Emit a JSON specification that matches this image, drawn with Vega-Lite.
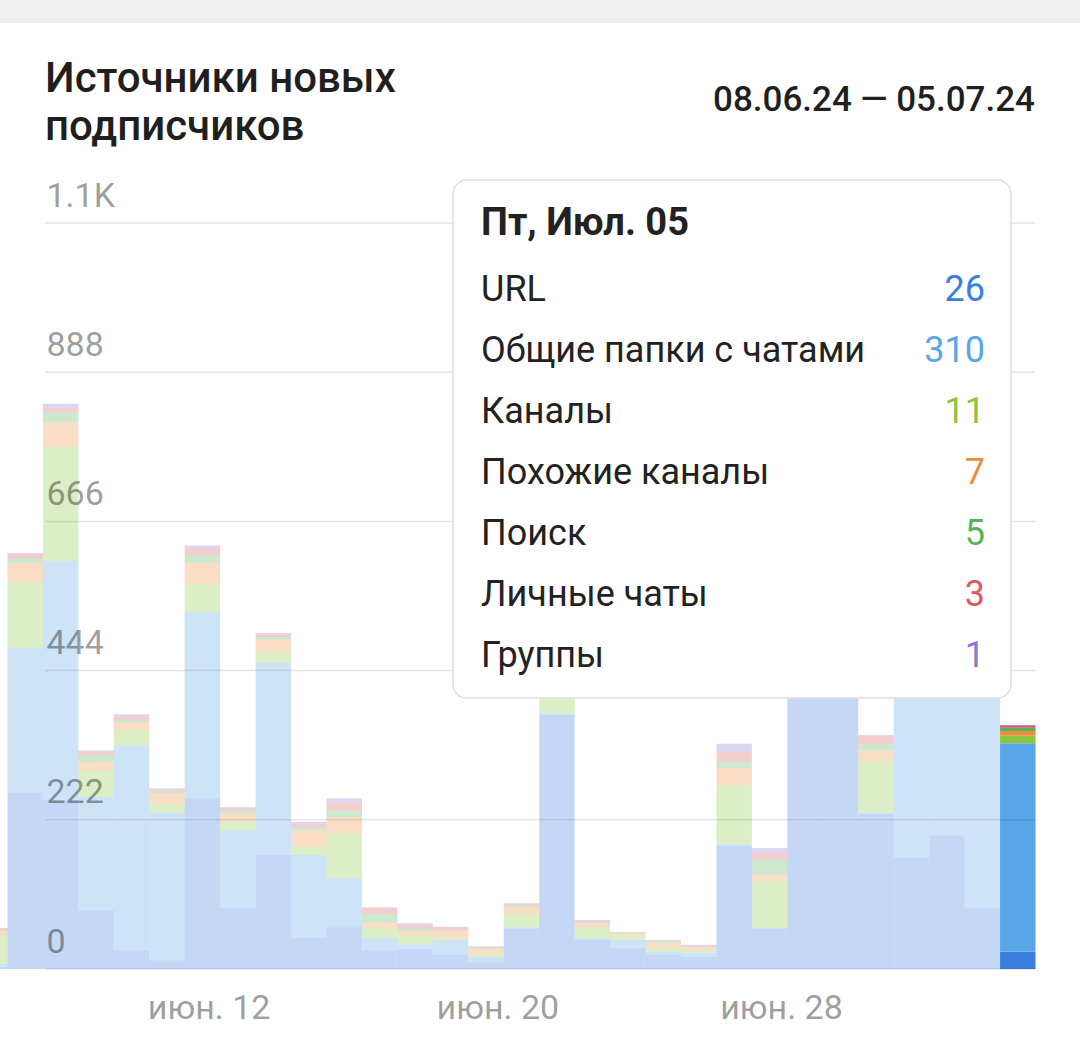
{
  "$schema": "https://vega.github.io/schema/vega-lite/v6.json",
  "width": 990,
  "height": 746,
  "autosize": {"type": "none"},
  "padding": {"left": 45, "right": 45, "top": 223, "bottom": 78},
  "background": "white",
  "config": {"view": {"stroke": null}, "font": "Roboto"},
  "datasets": {
    "days": [
      {"date": "2024-06-06", "URL": 3, "Общие папки с чатами": 5, "Каналы": 40, "Похожие каналы": 8, "Поиск": 2, "Личные чаты": 3, "Группы": 0},
      {"date": "2024-06-07", "URL": 262, "Общие папки с чатами": 216, "Каналы": 98, "Похожие каналы": 28, "Поиск": 7, "Личные чаты": 7, "Группы": 1},
      {"date": "2024-06-08", "URL": 251, "Общие папки с чатами": 356, "Каналы": 170, "Похожие каналы": 36, "Поиск": 15, "Личные чаты": 7, "Группы": 6},
      {"date": "2024-06-09", "URL": 88, "Общие папки с чатами": 168, "Каналы": 40, "Похожие каналы": 12, "Поиск": 10, "Личные чаты": 6, "Группы": 1},
      {"date": "2024-06-10", "URL": 28, "Общие папки с чатами": 305, "Каналы": 22, "Похожие каналы": 12, "Поиск": 3, "Личные чаты": 5, "Группы": 4},
      {"date": "2024-06-11", "URL": 13, "Общие папки с чатами": 220, "Каналы": 13, "Похожие каналы": 15, "Поиск": 3, "Личные чаты": 3, "Группы": 2},
      {"date": "2024-06-12", "URL": 254, "Общие папки с чатами": 277, "Каналы": 43, "Похожие каналы": 30, "Поиск": 12, "Личные чаты": 10, "Группы": 4},
      {"date": "2024-06-13", "URL": 91, "Общие папки с чатами": 116, "Каналы": 12, "Похожие каналы": 13, "Поиск": 4, "Личные чаты": 4, "Группы": 1},
      {"date": "2024-06-14", "URL": 170, "Общие папки с чатами": 286, "Каналы": 15, "Похожие каналы": 19, "Поиск": 4, "Личные чаты": 4, "Группы": 2},
      {"date": "2024-06-15", "URL": 46, "Общие папки с чатами": 124, "Каналы": 12, "Похожие каналы": 24, "Поиск": 4, "Личные чаты": 6, "Группы": 3},
      {"date": "2024-06-16", "URL": 62, "Общие папки с чатами": 73, "Каналы": 67, "Похожие каналы": 24, "Поиск": 10, "Личные чаты": 12, "Группы": 6},
      {"date": "2024-06-17", "URL": 28, "Общие папки с чатами": 18, "Каналы": 16, "Похожие каналы": 7, "Поиск": 13, "Личные чаты": 9, "Группы": 1},
      {"date": "2024-06-18", "URL": 30, "Общие папки с чатами": 7, "Каналы": 13, "Похожие каналы": 6, "Поиск": 3, "Личные чаты": 6, "Группы": 3},
      {"date": "2024-06-19", "URL": 21, "Общие папки с чатами": 22, "Каналы": 3, "Похожие каналы": 10, "Поиск": 1, "Личные чаты": 5, "Группы": 1},
      {"date": "2024-06-20", "URL": 10, "Общие папки с чатами": 8, "Каналы": 4, "Похожие каналы": 7, "Поиск": 2, "Личные чаты": 2, "Группы": 1},
      {"date": "2024-06-21", "URL": 60, "Общие папки с чатами": 2, "Каналы": 20, "Похожие каналы": 10, "Поиск": 2, "Личные чаты": 3, "Группы": 1},
      {"date": "2024-06-22", "URL": 378, "Общие папки с чатами": 2, "Каналы": 30, "Похожие каналы": 8, "Поиск": 4, "Личные чаты": 3, "Группы": 1},
      {"date": "2024-06-23", "URL": 43, "Общие папки с чатами": 3, "Каналы": 16, "Похожие каналы": 6, "Поиск": 2, "Личные чаты": 2, "Группы": 1},
      {"date": "2024-06-24", "URL": 31, "Общие папки с чатами": 12, "Каналы": 7, "Похожие каналы": 3, "Поиск": 1, "Личные чаты": 1, "Группы": 0},
      {"date": "2024-06-25", "URL": 21, "Общие папки с чатами": 5, "Каналы": 6, "Похожие каналы": 7, "Поиск": 2, "Личные чаты": 1, "Группы": 1},
      {"date": "2024-06-26", "URL": 18, "Общие папки с чатами": 6, "Каналы": 3, "Похожие каналы": 5, "Поиск": 1, "Личные чаты": 2, "Группы": 1},
      {"date": "2024-06-27", "URL": 183, "Общие папки с чатами": 3, "Каналы": 88, "Похожие каналы": 25, "Поиск": 9, "Личные чаты": 15, "Группы": 12},
      {"date": "2024-06-28", "URL": 60, "Общие папки с чатами": 1, "Каналы": 70, "Похожие каналы": 10, "Поиск": 22, "Личные чаты": 10, "Группы": 7},
      {"date": "2024-06-29", "URL": 420, "Общие папки с чатами": 3, "Каналы": 15, "Похожие каналы": 5, "Поиск": 3, "Личные чаты": 3, "Группы": 1},
      {"date": "2024-06-30", "URL": 430, "Общие папки с чатами": 2, "Каналы": 12, "Похожие каналы": 5, "Поиск": 3, "Личные чаты": 2, "Группы": 1},
      {"date": "2024-07-01", "URL": 231, "Общие папки с чатами": 2, "Каналы": 77, "Похожие каналы": 15, "Поиск": 10, "Личные чаты": 12, "Группы": 1},
      {"date": "2024-07-02", "URL": 165, "Общие папки с чатами": 290, "Каналы": 15, "Похожие каналы": 6, "Поиск": 4, "Личные чаты": 3, "Группы": 1},
      {"date": "2024-07-03", "URL": 199, "Общие папки с чатами": 260, "Каналы": 14, "Похожие каналы": 6, "Поиск": 4, "Личные чаты": 3, "Группы": 1},
      {"date": "2024-07-04", "URL": 91, "Общие папки с чатами": 360, "Каналы": 13, "Похожие каналы": 6, "Поиск": 4, "Личные чаты": 2, "Группы": 1},
      {"date": "2024-07-05", "URL": 26, "Общие папки с чатами": 310, "Каналы": 11, "Похожие каналы": 7, "Поиск": 5, "Личные чаты": 3, "Группы": 1}
    ],
    "sources": [
      {"source": "URL", "rank": 1},
      {"source": "Общие папки с чатами", "rank": 2},
      {"source": "Каналы", "rank": 3},
      {"source": "Похожие каналы", "rank": 4},
      {"source": "Поиск", "rank": 5},
      {"source": "Личные чаты", "rank": 6},
      {"source": "Группы", "rank": 7}
    ],
    "grid": [{"v": 0}, {"v": 222}, {"v": 444}, {"v": 666}, {"v": 888}, {"v": 1110}],
    "tip": [
      {"source": "URL", "value": 26},
      {"source": "Общие папки с чатами", "value": 310},
      {"source": "Каналы", "value": 11},
      {"source": "Похожие каналы", "value": 7},
      {"source": "Поиск", "value": 5},
      {"source": "Личные чаты", "value": 3},
      {"source": "Группы", "value": 1}
    ]
  },
  "layer": [
    {
      "data": {"values": [{}]},
      "mark": {"type": "rect", "color": "#efefef", "clip": false},
      "encoding": {
        "x": {"datum": {"year": 2024, "month": 5, "date": 25, "utc": true}, "type": "temporal"},
        "x2": {"datum": {"year": 2024, "month": 7, "date": 20, "utc": true}},
        "y": {"datum": 1520},
        "y2": {"datum": 1407.5}
      }
    },
    {
      "data": {"name": "days"},
      "transform": [
        {"fold": ["URL", "Общие папки с чатами", "Каналы", "Похожие каналы", "Поиск", "Личные чаты", "Группы"], "as": ["source", "value"]},
        {"lookup": "source", "from": {"data": {"name": "sources"}, "key": "source", "fields": ["rank"]}}
      ],
      "mark": {"type": "bar", "clip": false, "binSpacing": 0},
      "encoding": {
        "x": {
          "field": "date",
          "type": "temporal",
          "timeUnit": "utcyearmonthdate",
          "scale": {
            "type": "utc",
            "domain": [
              {"year": 2024, "month": 6, "date": 8, "hours": 1, "minutes": 46, "utc": true},
              {"year": 2024, "month": 7, "date": 6, "utc": true}
            ]
          },
          "axis": {
            "values": [
              {"year": 2024, "month": 6, "date": 12, "hours": 16, "minutes": 30, "utc": true},
              {"year": 2024, "month": 6, "date": 20, "hours": 20, "utc": true},
              {"year": 2024, "month": 6, "date": 28, "hours": 20, "utc": true}
            ],
            "labelExpr": "'июн. ' + utcFormat(datum.value, '%d')",
            "title": null,
            "domain": false,
            "ticks": false,
            "tickSize": 0,
            "grid": false,
            "labelFont": "Roboto",
            "labelFontSize": 34,
            "labelColor": "#000",
            "labelOpacity": 0.4,
            "labelBaseline": "alphabetic",
            "labelPadding": 49,
            "labelFlush": false,
            "labelOverlap": false,
            "labelBound": false
          }
        },
        "y": {
          "field": "value",
          "type": "quantitative",
          "stack": "zero",
          "scale": {"domain": [0, 1110], "nice": false, "zero": false},
          "axis": {
            "values": [0, 222, 444, 666, 888, 1110],
            "labelExpr": "datum.value == 1110 ? '1.1K' : datum.label",
            "title": null,
            "domain": false,
            "ticks": false,
            "tickSize": 0,
            "grid": false,
            "zindex": 1,
            "labelFont": "Roboto",
            "labelFontSize": 34,
            "labelColor": "#000",
            "labelOpacity": 0.4,
            "labelAlign": "left",
            "labelBaseline": "alphabetic",
            "labelPadding": -1,
            "labelOffset": -17,
            "labelFlush": false,
            "labelOverlap": false,
            "labelBound": false
          }
        },
        "color": {
          "field": "source",
          "type": "nominal",
          "scale": {
            "domain": ["URL", "Общие папки с чатами", "Каналы", "Похожие каналы", "Поиск", "Личные чаты", "Группы"],
            "range": ["#3a7fdf", "#58a6e8", "#8cc63e", "#eb8f3a", "#55b45a", "#dc5a5f", "#8a78d8"]
          },
          "legend": null
        },
        "order": {"field": "rank", "type": "quantitative", "sort": "ascending"},
        "opacity": {
          "condition": {"test": "time(datum.date) == utc(2024, 6, 5)", "value": 1},
          "value": 0.3
        }
      }
    },
    {
      "data": {"name": "grid"},
      "mark": {"type": "rule", "color": "#000", "opacity": 0.1, "strokeWidth": 1.5},
      "encoding": {
        "y": {"field": "v", "type": "quantitative"}
      }
    },
    {
      "data": {"values": [{}]},
      "mark": {"type": "rect", "fill": "#ffffff", "stroke": "#dedede", "strokeWidth": 1.5, "cornerRadius": 14, "clip": false},
      "encoding": {
        "x": {"datum": {"year": 2024, "month": 6, "date": 19, "hours": 14, "utc": true}, "type": "temporal"},
        "x2": {"datum": {"year": 2024, "month": 7, "date": 5, "hours": 7, "minutes": 45, "utc": true}},
        "y": {"datum": 1174},
        "y2": {"datum": 403.2}
      }
    },
    {
      "data": {"values": [{}]},
      "mark": {"type": "text", "text": "Пт, Июл. 05", "align": "left", "baseline": "middle", "font": "Roboto", "fontSize": 38, "fontWeight": "bold", "color": "#222222", "clip": false},
      "encoding": {
        "x": {"datum": {"year": 2024, "month": 6, "date": 20, "hours": 9, "utc": true}, "type": "temporal"},
        "y": {"datum": 1108.5}
      }
    },
    {
      "data": {"name": "tip"},
      "mark": {"type": "text", "align": "left", "baseline": "middle", "font": "Roboto", "fontSize": 36, "color": "#222222", "clip": false},
      "encoding": {
        "x": {"datum": {"year": 2024, "month": 6, "date": 20, "hours": 9, "utc": true}, "type": "temporal"},
        "y": {"datum": 1010.3},
        "yOffset": {
          "field": "source",
          "type": "nominal",
          "scale": {"type": "point", "domain": ["URL", "Общие папки с чатами", "Каналы", "Похожие каналы", "Поиск", "Личные чаты", "Группы"], "range": [0, 366], "padding": 0}
        },
        "text": {"field": "source"}
      }
    },
    {
      "data": {"name": "tip"},
      "mark": {"type": "text", "align": "right", "baseline": "middle", "font": "Roboto", "fontSize": 36, "clip": false},
      "encoding": {
        "x": {"datum": {"year": 2024, "month": 7, "date": 4, "hours": 14, "minutes": 9, "utc": true}, "type": "temporal"},
        "y": {"datum": 1010.3},
        "yOffset": {
          "field": "source",
          "type": "nominal",
          "scale": {"type": "point", "domain": ["URL", "Общие папки с чатами", "Каналы", "Похожие каналы", "Поиск", "Личные чаты", "Группы"], "range": [0, 366], "padding": 0}
        },
        "text": {"field": "value"},
        "color": {"field": "source", "type": "nominal", "legend": null}
      }
    },
    {
      "data": {"values": [{}]},
      "mark": {"type": "text", "text": ["Источники новых", "подписчиков"], "lineHeight": 48, "align": "left", "baseline": "middle", "font": "Roboto", "fontSize": 42, "fontWeight": 500, "color": "#1f1f1f", "clip": false},
      "encoding": {
        "x": {"datum": {"year": 2024, "month": 6, "date": 8, "hours": 1, "minutes": 46, "utc": true}, "type": "temporal"},
        "y": {"datum": 1324}
      }
    },
    {
      "data": {"values": [{}]},
      "mark": {"type": "text", "text": "08.06.24 — 05.07.24", "align": "right", "baseline": "middle", "font": "Roboto", "fontSize": 35, "fontWeight": 500, "color": "#1f1f1f", "clip": false},
      "encoding": {
        "x": {"datum": {"year": 2024, "month": 7, "date": 6, "utc": true}, "type": "temporal"},
        "y": {"datum": 1293}
      }
    }
  ]
}
